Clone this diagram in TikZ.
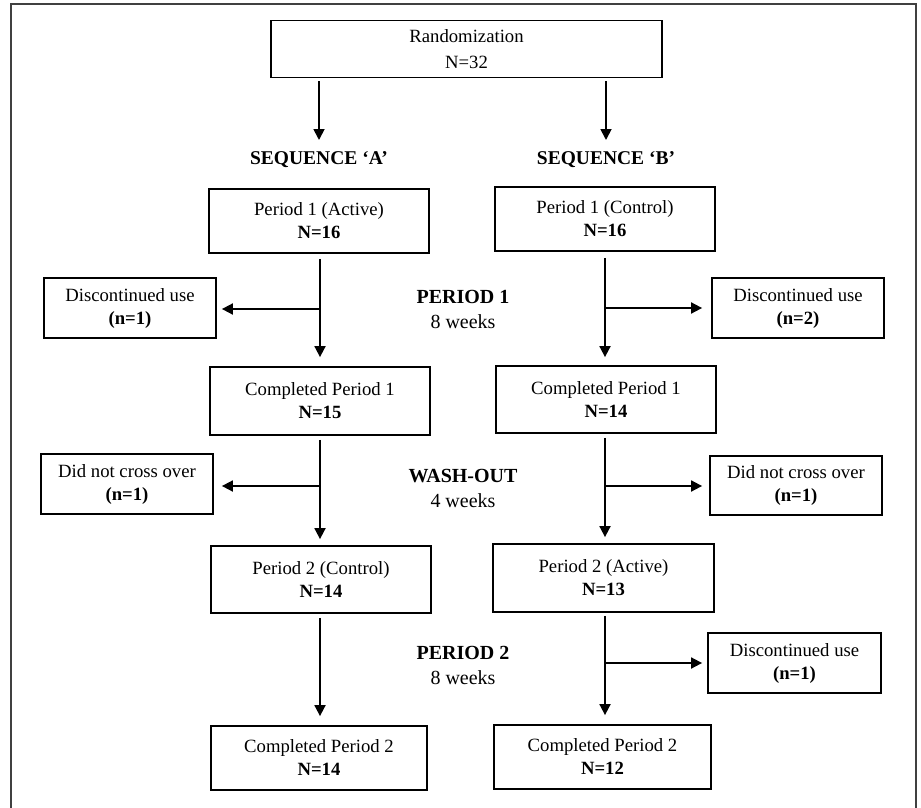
\documentclass[tikz,border=0pt]{standalone}
\usepackage{fontspec}
\setmainfont{Liberation Serif}
\usetikzlibrary{arrows.meta,calc}
\begin{document}
\begin{tikzpicture}[x=1pt,y=-1pt,
  box/.style={draw, line width=1.8pt, align=center, inner sep=0pt, font=\fontsize{18.7}{23}\selectfont},
  sidebox/.style={box, minimum width=172pt, minimum height=60pt},
  mainbox/.style={box, minimum width=220pt, minimum height=65pt},
  arr/.style={line width=1.8pt, -{Triangle[width=11pt,length=11pt]}},
  lbl/.style={align=center, inner sep=0pt, font=\fontsize{20}{25}\selectfont},
  seq/.style={inner sep=0pt, font=\fontsize{19.5}{24}\selectfont\bfseries},
]
\useasboundingbox (0,0) rectangle (921,808);
\draw[line width=2pt, black!75] (11,808) -- (11,4) -- (916,4) -- (916,808);

\node[box, minimum width=391pt, minimum height=57pt] (rand) at (466.5,49) {Randomization\\[3pt]N=32};

\node[seq] (seqA) at (319,160) {SEQUENCE ‘A’};
\node[seq] (seqB) at (606,160) {SEQUENCE ‘B’};

\node[mainbox, minimum height=64pt] (p1a) at (319,221) {Period 1 (Active)\\\textbf{N=16}};
\node[mainbox, minimum height=64pt] (p1b) at (605,219) {Period 1 (Control)\\\textbf{N=16}};

\node[sidebox] (d1a) at (130,308) {Discontinued use\\\textbf{(n=1)}};
\node[sidebox] (d1b) at (798,308) {Discontinued use\\\textbf{(n=2)}};

\node[mainbox, minimum height=68pt] (c1a) at (320,401) {Completed Period 1\\\textbf{N=15}};
\node[mainbox, minimum height=67pt] (c1b) at (606,399.5) {Completed Period 1\\\textbf{N=14}};

\node[sidebox] (x1a) at (127,484) {Did not cross over\\\textbf{(n=1)}};
\node[sidebox, minimum height=59pt] (x1b) at (796,485.5) {Did not cross over\\\textbf{(n=1)}};

\node[mainbox, minimum height=67pt] (p2a) at (321,579.5) {Period 2 (Control)\\\textbf{N=14}};
\node[mainbox, minimum width=221pt, minimum height=68pt] (p2b) at (603.5,578) {Period 2 (Active)\\\textbf{N=13}};

\node[sidebox, minimum width=173pt] (d2b) at (794.5,663) {Discontinued use\\\textbf{(n=1)}};

\node[mainbox, minimum width=216pt, minimum height=64pt] (c2a) at (319,758) {Completed Period 2\\\textbf{N=14}};
\node[mainbox, minimum width=217pt, minimum height=64pt] (c2b) at (602.5,757) {Completed Period 2\\\textbf{N=12}};

\node[lbl] (lp1) at (463,309) {\textbf{PERIOD 1}\\8 weeks};
\node[lbl] (lwo) at (463,488) {\textbf{WASH-OUT}\\4 weeks};
\node[lbl] (lp2) at (463,665) {\textbf{PERIOD 2}\\8 weeks};

% randomization to sequences
\draw[arr] ($(rand.south -| seqA)+(0,3)$) -- ($(seqA.center)+(0,-20)$);
\draw[arr] ($(rand.south -| seqB)+(0,3)$) -- ($(seqB.center)+(0,-20)$);

% sequence A trunks
\coordinate (ta) at (320,0);
\coordinate (tb) at (605,0);
\draw[arr] ($(ta |- p1a.south)+(0,5)$) -- ($(ta |- c1a.north)+(0,-9)$);
\draw[arr] ($(ta |- c1a.south)+(0,4)$) -- ($(ta |- p2a.north)+(0,-6)$);
\draw[arr] ($(ta |- p2a.south)+(0,4)$) -- ($(ta |- c2a.north)+(0,-9)$);
% sequence B trunks
\draw[arr] ($(tb |- p1b.south)+(0,6)$) -- ($(tb |- c1b.north)+(0,-8)$);
\draw[arr] ($(tb |- c1b.south)+(0,4)$) -- ($(tb |- p2b.north)+(0,-6)$);
\draw[arr] ($(tb |- p2b.south)+(0,3)$) -- ($(tb |- c2b.north)+(0,-9)$);

% branches
\draw[arr] ($(ta |- d1a.east)+(0,1)$) -- ($(d1a.east)+(5,1)$);
\draw[arr] ($(ta |- x1a.east)+(0,2)$) -- ($(x1a.east)+(8,2)$);
\draw[arr] (tb |- d1b.west) -- ($(d1b.west)+(-9,0)$);
\draw[arr] ($(tb |- x1b.west)+(0,0.5)$) -- ($(x1b.west)+(-7,0.5)$);
\draw[arr] (tb |- d2b.west) -- ($(d2b.west)+(-5,0)$);
\end{tikzpicture}
\end{document}
